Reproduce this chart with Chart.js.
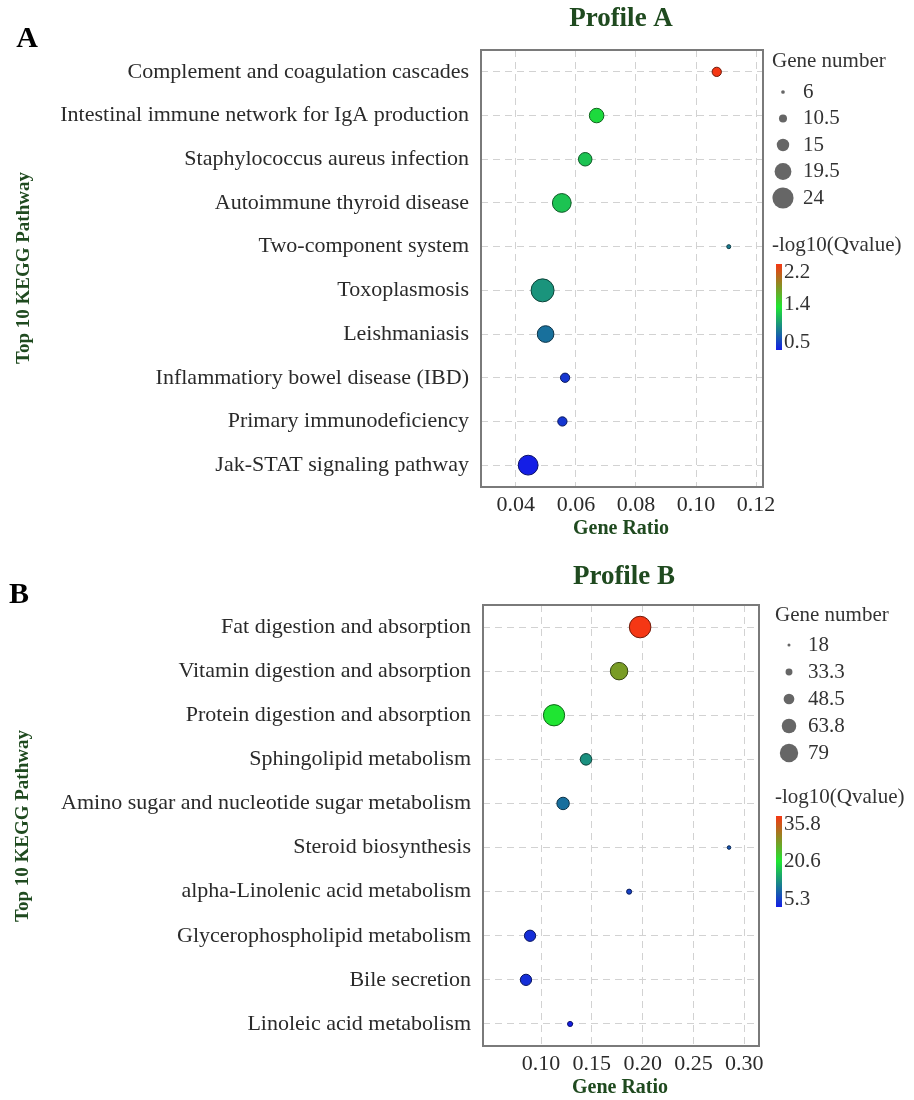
<!DOCTYPE html>
<html><head><meta charset="utf-8">
<script src="https://cdn.jsdelivr.net/npm/chart.js@4.4.1/dist/chart.umd.min.js"></script>
<style>
html,body{margin:0;padding:0;background:#fff;}
#wrap{position:relative;width:914px;height:1100px;overflow:hidden;}
canvas{position:absolute;left:0;}
</style></head><body>
<div id="wrap">
<canvas id="cA" width="914" height="550" style="top:0px"></canvas>
<canvas id="cB" width="914" height="550" style="top:550px"></canvas>
</div>
<script>
// ---------- Profile A data ----------
const pathwaysA = ["Complement and coagulation cascades","Intestinal immune network for IgA production","Staphylococcus aureus infection","Autoimmune thyroid disease","Two-component system","Toxoplasmosis","Leishmaniasis","Inflammatiory bowel disease (IBD)","Primary immunodeficiency","Jak-STAT signaling pathway"];
const ratioA = [0.1069, 0.0669, 0.0631, 0.0553, 0.1109, 0.0489, 0.0499, 0.0564, 0.0555, 0.0441];
const genesA = [11, 16, 15, 20, 6, 24, 18, 11, 11, 21];
const qvalA = [2.2, 1.3, 1.2, 1.2, 0.9, 1.0, 0.85, 0.6, 0.6, 0.5];
const xTicksA = [0.04, 0.06, 0.08, 0.10, 0.12];
const sizeLegendA = [6, 10.5, 15, 19.5, 24];
const colorTicksA = [2.2, 1.4, 0.5];

// ---------- Profile B data ----------
const pathwaysB = ["Fat digestion and absorption","Vitamin digestion and absorption","Protein digestion and absorption","Sphingolipid metabolism","Amino sugar and nucleotide sugar metabolism","Steroid biosynthesis","alpha-Linolenic acid metabolism","Glycerophospholipid metabolism","Bile secretion","Linoleic acid metabolism"];
const ratioB = [0.1975, 0.1768, 0.1128, 0.1443, 0.1217, 0.2850, 0.1867, 0.0892, 0.0852, 0.1286];
const genesB = [79, 65, 78, 45, 48, 18, 23, 44, 44, 23];
const qvalB = [35.8, 27.0, 20.6, 14.0, 11.5, 9.5, 8.0, 6.5, 6.5, 5.3];
const xTicksB = [0.10, 0.15, 0.20, 0.25, 0.30];
const sizeLegendB = [18, 33.3, 48.5, 63.8, 79];
const colorTicksB = [35.8, 20.6, 5.3];

const SERIF = "'Liberation Serif','Times New Roman',serif";
Chart.defaults.font.family = SERIF;

function cmap(t){
  const stops = [[20,30,230],[30,230,50],[245,55,20]];
  t = Math.max(0, Math.min(1, t));
  const seg = t < 0.5 ? 0 : 1;
  const f = t < 0.5 ? t/0.5 : (t-0.5)/0.5;
  const a = stops[seg], b = stops[seg+1];
  return a.map((v,i)=>Math.round(v + (b[i]-v)*f));
}
const rgb = c => `rgb(${c[0]},${c[1]},${c[2]})`;
const dark = c => `rgb(${Math.round(c[0]*0.45)},${Math.round(c[1]*0.45)},${Math.round(c[2]*0.45)})`;

function build(canvasId, cfg){
  const qMin = Math.min(...cfg.colorTicks), qMax = Math.max(...cfg.colorTicks);
  const nMin = Math.min(...cfg.sizeLegend), nMax = Math.max(...cfg.sizeLegend);
  const radius = n => cfg.rMin + (n - nMin)/(nMax - nMin)*(cfg.rMax - cfg.rMin);
  const cols = cfg.q.map(q => cmap((q - qMin)/(qMax - qMin)));
  const points = cfg.cats.map((c,i)=>({x: cfg.ratio[i], y: c, r: radius(cfg.genes[i])}));

  const decor = {
    id: 'decor',
    beforeDatasetsDraw(chart){
      const {ctx, chartArea:a} = chart;
      ctx.save();
      ctx.strokeStyle = '#7a7a7a'; ctx.lineWidth = 2;
      ctx.strokeRect(a.left, a.top, a.right - a.left, a.bottom - a.top);
      ctx.restore();
    },
    afterDraw(chart){
      const {ctx} = chart;
      const L = cfg.lay;
      ctx.save();
      ctx.textBaseline = 'middle';
      // panel letter
      ctx.fillStyle = '#000'; ctx.textAlign = 'center';
      ctx.font = `bold 30px ${SERIF}`;
      ctx.fillText(cfg.letter, L.letter[0], L.letter[1]);
      // title
      ctx.fillStyle = '#1f4a1f';
      ctx.font = `bold 27px ${SERIF}`;
      ctx.fillText(cfg.title, L.title[0], L.title[1]);
      // x title
      ctx.font = `bold 20px ${SERIF}`;
      ctx.fillText('Gene Ratio', L.xTitle[0], L.xTitle[1]);
      // y title
      ctx.save();
      ctx.translate(L.yTitle[0], L.yTitle[1]);
      ctx.rotate(-Math.PI/2);
      ctx.font = `bold 19px ${SERIF}`;
      ctx.fillText('Top 10 KEGG Pathway', 0, 0);
      ctx.restore();
      // size legend
      ctx.fillStyle = '#333'; ctx.textAlign = 'left';
      ctx.font = `21px ${SERIF}`;
      ctx.fillText('Gene number', L.legX, L.legTitleY);
      cfg.sizeLegend.forEach((n,i)=>{
        const y = L.legY0 + i*L.legStep;
        ctx.beginPath();
        ctx.arc(L.circX, y, radius(n)*L.legScale, 0, Math.PI*2);
        ctx.fillStyle = '#666'; ctx.fill();
        ctx.fillStyle = '#333';
        ctx.fillText(String(n), L.legTextX, y);
      });
      // colorbar
      ctx.fillText('-log10(Qvalue)', L.legX, L.cbTitleY);
      const g = ctx.createLinearGradient(0, L.cbTop, 0, L.cbBottom);
      for (let k=0;k<=10;k++){ g.addColorStop(k/10, rgb(cmap(1 - k/10))); }
      ctx.fillStyle = g;
      ctx.fillRect(L.cbX, L.cbTop, 6, L.cbBottom - L.cbTop);
      ctx.fillStyle = '#333';
      cfg.colorTicks.forEach(v=>{
        const y = L.cbTop + 8 + (qMax - v)/(qMax - qMin)*(L.cbBottom - L.cbTop - 16);
        ctx.fillText(String(v), L.cbX + 8, y);
      });
      ctx.restore();
    }
  };

  const dashed = {display:false, dash:[7,5]};
  return new Chart(document.getElementById(canvasId), {
    type: 'bubble',
    data: { datasets: [{
      data: points,
      backgroundColor: cols.map(rgb),
      borderColor: cols.map(dark),
      borderWidth: 1,
      hoverRadius: 0
    }]},
    options: {
      responsive: false, animation: false, devicePixelRatio: 1,
      events: [],
      layout: { padding: { left: 0, right: cfg.padRight, top: cfg.padTop, bottom: cfg.padBottom } },
      plugins: { legend: {display:false}, tooltip: {enabled:false} },
      scales: {
        x: {
          type: 'linear', min: cfg.xMin, max: cfg.xMax,
          afterBuildTicks: s => { s.ticks = cfg.xTicks.map(v => ({value: v})); },
          afterFit: s => { s.height = 40; },
          ticks: { callback: v => Number(v).toFixed(2), font: {size: 22}, color: '#2a2a2a', padding: 5, maxRotation: 0, autoSkip: false },
          grid: { color: '#d2d2d2', lineWidth: 1, drawTicks: false },
          border: dashed
        },
        y: {
          type: 'category', labels: cfg.cats, offset: true,
          afterFit: s => { s.width = cfg.yWidth; },
          ticks: { font: {size: 22}, color: '#2a2a2a', padding: 12, autoSkip: false },
          grid: { color: '#d2d2d2', lineWidth: 1, drawTicks: false },
          border: dashed
        }
      }
    },
    plugins: [decor]
  });
}

build('cA', {
  cats: pathwaysA, ratio: ratioA, genes: genesA, q: qvalA,
  xTicks: xTicksA, sizeLegend: sizeLegendA, colorTicks: colorTicksA,
  letter: 'A', title: 'Profile A',
  xMin: 0.0284, xMax: 0.1223, rMin: 2, rMax: 11.5,
  yWidth: 481, padTop: 50, padRight: 151, padBottom: 23,
  lay: { letter:[27,39], title:[621,19], xTitle:[621,529], yTitle:[24,268],
         legX:772, legTitleY:61, legY0:92, legStep:26.5, circX:783, legTextX:803, legScale:0.92,
         cbTitleY:245, cbX:776, cbTop:264, cbBottom:350 }
});

build('cB', {
  cats: pathwaysB, ratio: ratioB, genes: genesB, q: qvalB,
  xTicks: xTicksB, sizeLegend: sizeLegendB, colorTicks: colorTicksB,
  letter: 'B', title: 'Profile B',
  xMin: 0.0429, xMax: 0.3145, rMin: 1.8, rMax: 10.8,
  yWidth: 483, padTop: 55, padRight: 155, padBottom: 14,
  lay: { letter:[19,45], title:[624,27], xTitle:[620,538], yTitle:[23,276],
         legX:775, legTitleY:65, legY0:95, legStep:27, circX:789, legTextX:808, legScale:0.85,
         cbTitleY:247, cbX:776, cbTop:266, cbBottom:357 }
});
</script>
</body></html>
